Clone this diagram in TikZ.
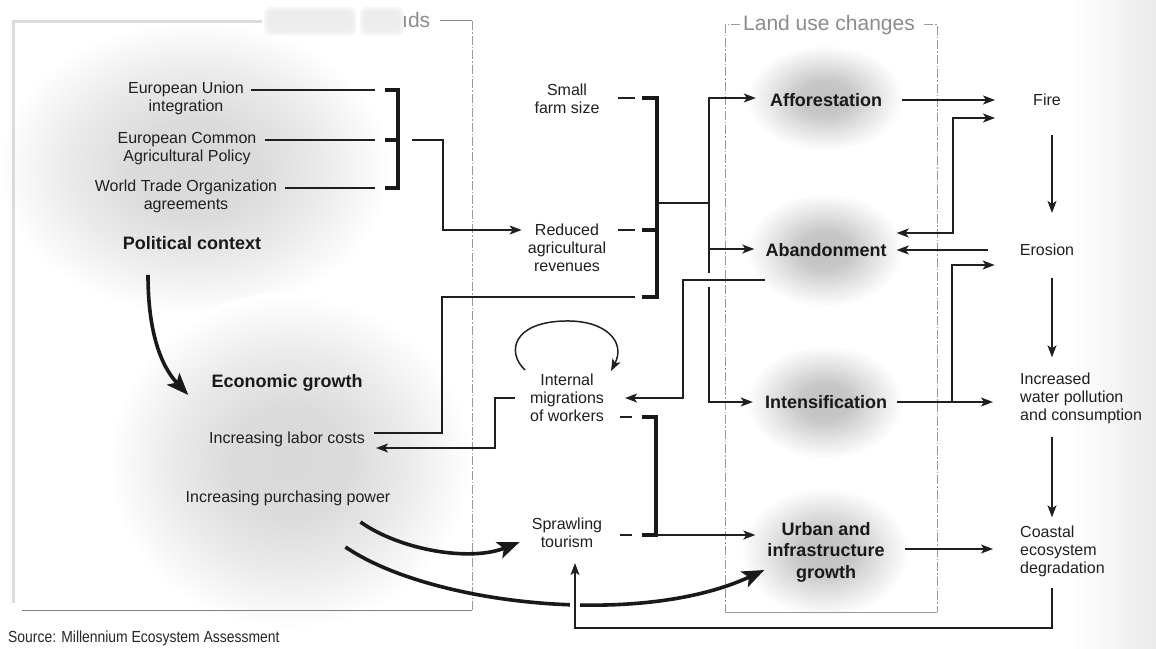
\documentclass[tikz,border=0pt]{standalone}
\usepackage{fontspec}
\setmainfont{Liberation Sans}
\newfontfamily\narrowfont{Liberation Sans}[FakeStretch=0.87]
\usetikzlibrary{arrows.meta,calc}
\pgfdeclareradialshading{blobL}{\pgfpoint{0bp}{0bp}}{%
  color(0bp)=(black!15); color(8bp)=(black!14); color(16bp)=(black!8); color(24.5bp)=(white); color(50bp)=(white)}
\pgfdeclareradialshading{blobR}{\pgfpoint{0bp}{0bp}}{%
  color(0bp)=(black!24); color(8bp)=(black!22); color(16bp)=(black!11); color(24.5bp)=(white); color(50bp)=(white)}
\begin{document}
\begin{tikzpicture}[x=1pt,y=-1pt,
  txt/.style={font=\fontsize{16}{18}\selectfont, text=black!88, align=center, inner sep=0pt},
  btxt/.style={font=\fontsize{18}{21.5}\selectfont\bfseries, text=black!90, align=center, inner sep=0pt},
  conn/.style={draw=black!88, line width=1.5pt},
  arr/.style={conn, -{Stealth[length=12pt,width=9pt,inset=3pt]}},
  darr/.style={conn, {Stealth[length=12pt,width=9pt,inset=3pt]}-{Stealth[length=12pt,width=9pt,inset=3pt]}},
  brk/.style={draw=black!90, line width=4pt},
  bigarr/.style={draw=black!90, line width=3.6pt, -{Stealth[length=22pt,width=17pt,inset=5pt]}},
  dashframe/.style={draw=black!40, line width=0.7pt, dash pattern=on 9pt off 2pt on 1.5pt off 2pt},
  lbl/.style={text=black!45, font=\fontsize{21}{21}\selectfont, inner sep=0pt},
  smudge/.style={fill=black!8, opacity=0.45, rounded corners=6pt}
]
\useasboundingbox (0,0) rectangle (1156,648);
\fill[white] (0,0) rectangle (1156,648);
\shade[left color=white, right color=black!8] (1070,0) rectangle (1156,648);

% background blobs
\shade[shading=blobL] (195,168) ellipse [x radius=200pt, y radius=150pt];
\shade[shading=blobL] (290,462) ellipse [x radius=185pt, y radius=170pt];
\shade[shading=blobR] (825,98) ellipse [x radius=80pt, y radius=54pt];
\shade[shading=blobR] (825,250) ellipse [x radius=80pt, y radius=58pt];
\shade[shading=blobR] (825,402) ellipse [x radius=80pt, y radius=58pt];
\shade[shading=blobR] (825,552) ellipse [x radius=86pt, y radius=66pt];

% left frame
\draw[black!14, line width=3pt] (262,21) -- (13,21) -- (13,603);
\draw[black!50, line width=0.7pt] (22,610) -- (472,610);
\draw[dashframe] (472,610) -- (472,20);
\draw[black!45, line width=0.7pt] (440,20) -- (472,20);
\foreach \d in {0,2,4}{
  \path[smudge] (268-\d,11-\d) rectangle (352+\d,31+\d);
  \path[smudge] (364-\d,11-\d) rectangle (400+\d,31+\d);
}
\node[lbl, anchor=west] (lblA) at (402,20) {ıds};

% land use frame
\draw[dashframe] (740,24) -- (725,24) -- (725,612);
\draw[dashframe] (924,24) -- (937,24) -- (937,612);
\draw[black!40, line width=0.7pt] (725,612) -- (937,612);
\node[lbl, anchor=west] (lblB) at (743,25) {Land use changes};

% text nodes
\node[txt] (eu) at (186,98.5) {European Union\\integration};
\node[txt] (ecap) at (187,148.5) {European Common\\Agricultural Policy};
\node[txt] (wto) at (186,196.5) {World Trade Organization\\agreements};
\node[btxt] (pol) at (192,243) {Political context};
\node[btxt] (eco) at (287,383) {Economic growth};
\node[txt] (labor) at (287,439) {Increasing labor costs};
\node[txt] (purch) at (288,498) {Increasing purchasing power};
\node[txt] (small) at (567,99) {Small\\farm size};
\node[txt] (reduced) at (567,248) {Reduced\\agricultural\\revenues};
\node[txt] (migr) at (567,398) {Internal\\migrations\\of workers};
\node[txt] (sprawl) at (567,533) {Sprawling\\tourism};
\node[btxt] (affor) at (826,100) {Afforestation};
\node[btxt] (aband) at (826,250) {Abandonment};
\node[btxt] (intens) at (826,402) {Intensification};
\node[btxt] (urban) at (826,552) {Urban and\\infrastructure\\growth};
\node[txt] (fire) at (1047,100) {Fire};
\node[txt] (erosion) at (1047,250) {Erosion};
\node[txt, anchor=west, align=left] (water) at (1020,398) {Increased\\water pollution\\and consumption};
\node[txt, anchor=west, align=left] (coastal) at (1020,551) {Coastal\\ecosystem\\degradation};
\node[anchor=west, inner sep=0pt, font=\narrowfont\fontsize{16}{16}\selectfont, text=black!85] (src) at (8,638) {Source: Millennium Ecosystem Assessment};

% coordinates
\coordinate (t1) at (375,90);
\coordinate (t2) at (375,140);
\coordinate (t3) at (375,188);
\coordinate (k1) at (398,90);
\coordinate (k2) at (398,140);
\coordinate (k3) at (398,188);
\coordinate (e1) at (412,140);
\coordinate (r1) at (443,140);
\coordinate (r2) at (443,230);
\coordinate (sd) at (635,98);
\coordinate (rd) at (635,230);
\coordinate (q1) at (657,98);
\coordinate (q2) at (657,230);
\coordinate (q3) at (657,297);
\coordinate (lb1) at (375,433);
\coordinate (lb2) at (442,433);
\coordinate (lb3) at (442,297);
\coordinate (lb4) at (635,297);
\coordinate (v0) at (709,203);
\coordinate (va) at (709,98);
\coordinate (vb) at (709,249);
\coordinate (vc) at (709,402);
\coordinate (m1) at (765,280);
\coordinate (m2) at (683,280);
\coordinate (m3) at (683,398);
\coordinate (n1) at (515,398);
\coordinate (n2) at (495,398);
\coordinate (n3) at (495,448);
\coordinate (w1) at (632,417);
\coordinate (w2) at (656,417);
\coordinate (w3) at (632,535);
\coordinate (w4) at (656,535);
\coordinate (fa1) at (953,118);
\coordinate (fa2) at (953,233);
\coordinate (ib) at (952,402);
\coordinate (ie) at (952,265);
\coordinate (uc) at (905,549);
\coordinate (colx) at (1052,0);
\coordinate (cs1) at (1052,628);
\coordinate (cs2) at (575,628);

% left bracket
\draw[conn, shorten <=7pt] (eu.east |- t1) -- (t1);
\draw[conn, shorten <=8pt] (ecap.east |- t2) -- (t2);
\draw[conn, shorten <=8pt] (wto.east |- t3) -- (t3);
\draw[brk] (385,90) -- (k1) -- (k3) -- (385,188);
\draw[brk] (385,140) -- (k2);
\draw[arr, shorten >=6pt] (e1) -- (r1) -- (r2) -- (reduced.west |- r2);

% middle bracket
\draw[conn, shorten <=18pt] (small.east |- sd) -- (sd);
\draw[conn, shorten <=12pt] (reduced.east |- rd) -- (rd);
\draw[brk] (642,98) -- (q1) -- (q3) -- (642,297);
\draw[brk] (642,230) -- (q2);
\draw[conn, shorten <=9pt] (labor.east |- lb1) -- (lb2) -- (lb3) -- (lb4);
\draw[conn] (659,203) -- (v0);

% to land use changes
\draw[arr, shorten >=14pt] (vb) -- (va) -- (affor.west |- va);
\draw[arr, shorten >=11pt] (vb) -- (aband.west |- vb);
\draw[arr, shorten >=12pt] (vb) -- (vc) -- (intens.west |- vc);
\draw[white, line width=3pt] (709,273) -- (709,287);
\draw[arr, shorten >=21pt] (m1) -- (m2) -- (m3) -- (migr.east |- m3);
\draw[arr, shorten >=11pt] (n1) -- (n2) -- (n3) -- (labor.east |- n3);

% loop
\draw[conn, -{Stealth[length=12pt,width=9pt,inset=3pt]}] (525,370) .. controls (506,352) and (513,322) .. (565,321) .. controls (606,320) and (626,342) .. (611,371);

% migrations / tourism bracket
\draw[conn, shorten <=16pt] (migr.east |- w1) -- (w1);
\draw[conn, shorten <=18pt] (sprawl.east |- w3) -- (w3);
\draw[brk] (642,417) -- (w2) -- (w4) -- (642,535);
\draw[arr, shorten >=12pt] (w4) -- (urban.west |- w4);

% right side
\draw[arr, shorten <=20pt, shorten >=38pt] (affor.east) -- (fire.west);
\draw[darr, shorten <=10pt, shorten >=38pt] (aband.east |- fa2) -- (fa2) -- (fa1) -- (fire.west |- fa1);
\draw[arr, shorten <=32pt, shorten >=10pt] (erosion.west) -- (aband.east);
\draw[arr, shorten <=10pt, shorten >=27pt] (intens.east) -- (water.west |- intens.east);
\draw[arr, shorten >=25pt] (ib) -- (ie) -- (erosion.west |- ie);
\draw[arr, shorten <=20pt, shorten >=27pt] (urban.east |- uc) -- (coastal.west |- uc);
\draw[arr, shorten <=29pt, shorten >=31pt] (colx |- fire.south) -- (colx |- erosion.north);
\draw[arr, shorten <=22pt, shorten >=15pt] (colx |- erosion.south) -- (colx |- water.north);
\draw[arr, shorten <=13pt, shorten >=8pt] (colx |- water.south) -- (colx |- coastal.north);

% big curved arrows
\draw[bigarr] ($(pol.south)+(-44,25)$) .. controls (148,330) and (160,365) .. ($(eco.west)+(-23,12)$);
\draw[bigarr] ($(purch.east)+(-30,24)$) .. controls (400,550) and (470,562) .. ($(sprawl.west)+(-12,9)$);
\draw[bigarr] ($(purch.east)+(-45,49)$) .. controls (430,605) and (640,628) .. ($(urban.west)+(-3,18)$);

% coastal back to tourism
\draw[white, line width=10pt] (575,590) -- (575,618);
\draw[arr, shorten <=11pt, shorten >=15pt] (cs1 |- coastal.south) -- (cs1) -- (cs2) -- (cs2 |- sprawl.south);
\end{tikzpicture}
\end{document}
